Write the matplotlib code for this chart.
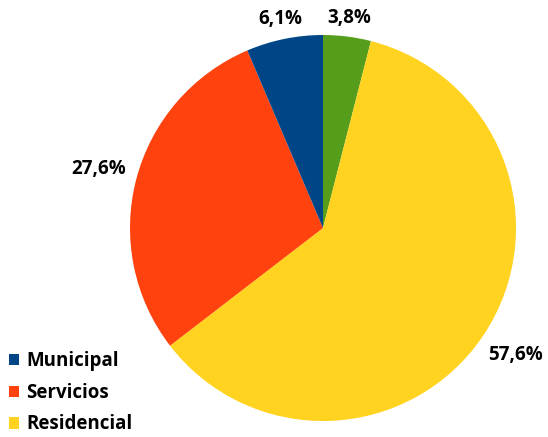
import matplotlib
matplotlib.use('Agg')
import numpy as np
import matplotlib.pyplot as plt

plt.rcParams['font.family'] = ['Open Sans', 'DejaVu Sans']

# data, clockwise from 12 o'clock
sectors = ['Otros', 'Residencial', 'Servicios', 'Municipal']
values = [3.8, 57.6, 27.6, 6.1]
labels = ['3,8%', '57,6%', '27,6%', '6,1%']
colors = ['#579D1C', '#FFD320', '#FF420E', '#004586']
legend_items = ['Municipal', 'Servicios', 'Residencial']

fig = plt.figure(figsize=(5.48, 4.37), dpi=100)
ax = fig.add_axes([130/548, 16/437, 386/548, 386/437])

wedges, texts = ax.pie(values, labels=labels, colors=colors, startangle=90,
                       counterclock=False, labeldistance=1.1,
                       textprops={'fontsize': 13.5, 'fontweight': 'bold'})
ax.set_aspect('equal')
ax.set_xlim(-1, 1)
ax.set_ylim(-1, 1)

# push each label out so its nearest edge sits just outside the pie
fig.canvas.draw()
renderer = fig.canvas.get_renderer()
px_per_unit = ax.bbox.width / 2.0
for w, t in zip(wedges, texts):
    t.set_ha('center')
    t.set_va('center')
    ang = np.deg2rad((w.theta1 + w.theta2) / 2.0)
    bb = t.get_window_extent(renderer)
    hw = bb.width / 2.0 / px_per_unit
    hh = bb.height / 2.0 / px_per_unit
    d = 1.03 + abs(np.cos(ang)) * (hw + 0.02) + abs(np.sin(ang)) * hh
    t.set_position((d * np.cos(ang), d * np.sin(ang)))

handles = [wedges[sectors.index(n)] for n in legend_items]
fig.legend(handles, legend_items, loc='lower left', bbox_to_anchor=(-0.005, -0.02),
           frameon=False, prop={'size': 13.5, 'weight': 'bold'},
           handlelength=0.55, handleheight=0.55, handletextpad=0.4,
           labelspacing=0.62, borderaxespad=0.2)

fig.savefig('out.png', dpi=100)
